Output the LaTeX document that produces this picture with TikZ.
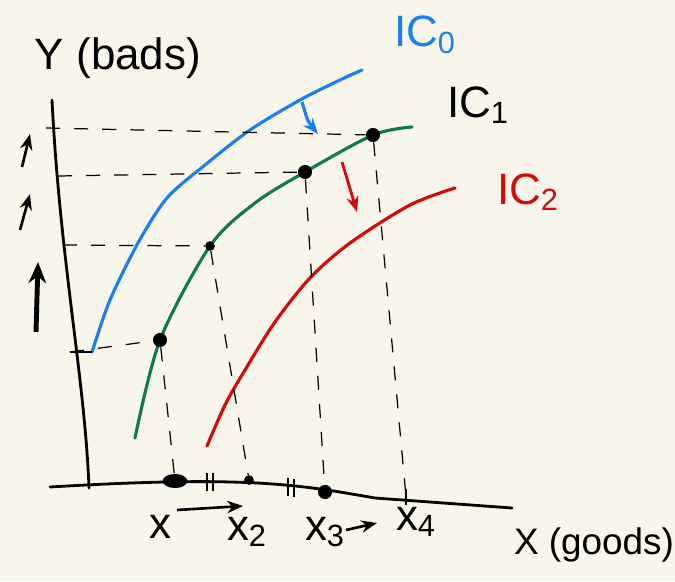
\documentclass[tikz,border=0pt]{standalone}
\usepackage{fontspec}
\setmainfont{Liberation Sans}
\usetikzlibrary{arrows.meta,positioning,calc,shapes.geometric}
\definecolor{paper}{HTML}{F8F6EA}
\definecolor{icblue}{HTML}{1A80F0}
\definecolor{icgreen}{HTML}{0E7A52}
\definecolor{icred}{HTML}{D40A0A}

\begin{document}
\begin{tikzpicture}[x=0.02cm,y=-0.02cm,
  every node/.style={font=\fontsize{25}{30}\selectfont},
  axis/.style={line width=1.6pt,line cap=round},
  curve/.style={line width=1.8pt,line cap=round},
  guide/.style={dashed,dash pattern=on 8pt off 8pt,line width=0.7pt},
  dot/.style={circle,fill=black,inner sep=0pt,minimum size=8pt},
  smalldot/.style={circle,fill=black,inner sep=0pt,minimum size=5.5pt},
  tick/.style={line width=1.2pt},
  move/.style={-{Stealth[length=9pt,width=7pt]},line width=1.5pt}]
  % paper
  \fill[paper] (0,0) rectangle (675,581);
  \useasboundingbox (0,0) rectangle (675,581);
  % axes
  \coordinate (yTop) at (52,100);
  \coordinate (xLeft) at (50,487);
  \coordinate (xRight) at (512,508);
  \draw[axis] (yTop) .. controls (60,260) and (85,380) .. (89,488);
  \draw[axis] (xLeft) .. controls (250,475) and (300,485) .. (375,498) -- (xRight);
  % curves
  \draw[curve,icblue] plot[smooth] coordinates {(92,352) (110,300) (138,243) (167,198) (205,165) (250,130) (300,100) (340,80) (362,70)};
  \draw[curve,icgreen] plot[smooth] coordinates {(135,438) (160,340) (210,246) (255,203) (305,172) (373,135) (412,127)};
  \draw[curve,icred] plot[smooth] coordinates {(207,446) (225,405) (245,370) (275,322) (310,278) (350,243) (410,205) (455,188)};
  % points on IC1
  \node[dot] (p1) at (160,340) {};
  \node[smalldot] (p2) at (210,246) {};
  \node[dot] (p3) at (305,172) {};
  \node[dot] (p4) at (373,135) {};
  % points on axes
  \coordinate (y1) at (70,352);
  \coordinate (y2) at (63,245);
  \coordinate (y3) at (58,176);
  \coordinate (y4) at (46,128);
  \node[ellipse,fill=black,inner sep=0pt,minimum width=14pt,minimum height=8pt] (q1) at (175,481) {};
  \node[smalldot] (q2) at (249,480) {};
  \node[dot] (q3) at (325,492) {};
  \coordinate (q4) at (406,497);
  \draw[tick] (70,352) -- (92,352);
  \draw[tick] ($(q4)+(0,-8)$) -- ($(q4)+(0,8)$);
  \foreach \cx/\cy in {207/482, 213/482, 288/487, 294/488}
    \draw[tick] (\cx,\cy-9) -- (\cx,\cy+9);
  % guides
  \draw[guide] (y1) -- (p1);
  \draw[guide] (y2) -- (p2);
  \draw[guide] (y3) -- (p3);
  \draw[guide] (y4) -- (p4);
  \draw[guide] (p1) -- (q1);
  \draw[guide] (p2) -- (q2);
  \draw[guide] (p3) -- (q3);
  \draw[guide] (p4) -- (q4);
  % shift arrows
  \draw[move,icblue,line width=1.8pt] (302,102) .. controls (308,122) .. (318,134);
  \draw[move,icred,line width=1.6pt] (342,162) -- (357,212);
  \draw[move] (22,167) -- (30,134);
  \draw[move] (20,230) -- (30,194);
  \draw[move,line width=2.8pt,-{Stealth[length=12pt,width=10pt]}] (36,332) -- (38,262);
  \draw[move] (177,510) -- (243,506);
  \draw[move] (346,530) -- (377,523);
  % labels
  \node (ylab) at (118,58) {Y (bads)};
  \node[icblue] (ic0) at (425,35) {IC\textsubscript{0}};
  \node (ic1) at (478,105) {IC\textsubscript{1}};
  \node[icred] (ic2) at (528,192) {IC\textsubscript{2}};
  \node (lx1) at (160,527) {x};
  \node (lx2) at (247,532) {x\textsubscript{2}};
  \node (lx3) at (325,532) {x\textsubscript{3}};
  \node (lx4) at (416,522) {x\textsubscript{4}};
  \node[font=\fontsize{21}{26}\selectfont] (xlab) at (594,545) {X (goods)};
\end{tikzpicture}
\end{document}
